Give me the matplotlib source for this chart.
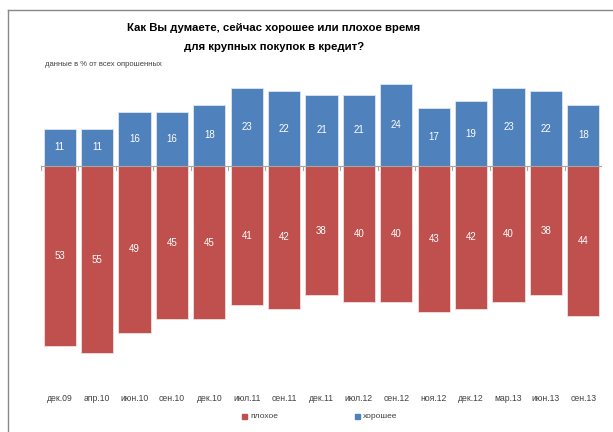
import numpy as np
import matplotlib.pyplot as plt
from matplotlib.lines import Line2D

plt.rcParams['font.family'] = ['Liberation Sans', 'DejaVu Sans']

periods = ['дек.09', 'апр.10', 'июн.10', 'сен.10', 'дек.10', 'июл.11', 'сен.11', 'дек.11',
           'июл.12', 'сен.12', 'ноя.12', 'дек.12', 'мар.13', 'июн.13', 'сен.13']
good = [11, 11, 16, 16, 18, 23, 22, 21, 21, 24, 17, 19, 23, 22, 18]
bad = [53, 55, 49, 45, 45, 41, 42, 38, 40, 40, 43, 42, 40, 38, 44]

blue = '#4F81BD'
red = '#C0504D'

fig = plt.figure(figsize=(6.13, 4.32), dpi=100)
ax = fig.add_axes([0.067, 0.1435, 0.915, 0.7083])

x = np.arange(len(periods))
bw = 0.86
ax.bar(x, good, width=bw, color=blue, edgecolor='#dfe6f0', linewidth=0.6)
ax.bar(x, [-v for v in bad], width=bw, color=red, edgecolor='#f0dede', linewidth=0.6)

for i in range(len(periods)):
    ax.text(x[i], good[i] / 2, str(good[i]), ha='center', va='center',
            color='white', fontsize=7)
    ax.text(x[i], -bad[i] / 2, str(bad[i]), ha='center', va='center',
            color='white', fontsize=7)

# category axis along zero with tick marks between categories
ax.axhline(0, color='#a6a6a6', lw=0.8, zorder=3)
for b in np.arange(-0.5, len(periods)):
    ax.plot([b, b], [0, -1.2], color='#a6a6a6', lw=0.8, zorder=3)

ax.set_xlim(-0.5, len(periods) - 0.5)
ax.set_ylim(-60, 30)
ax.set_xticks(x)
ax.set_xticklabels(periods, fontsize=6.2, color='#404040')
ax.tick_params(axis='x', length=0, pad=17)
ax.set_yticks([])
for s in ax.spines.values():
    s.set_visible(False)

fig.text(0.447, 0.935, 'Как Вы думаете, сейчас хорошее или плохое время',
         ha='center', va='center', fontsize=8.2, fontweight='bold')
fig.text(0.447, 0.891, 'для крупных покупок в кредит?',
         ha='center', va='center', fontsize=8.2, fontweight='bold')
fig.text(0.073, 0.85, 'данные в % от всех опрошенных', ha='left', va='center',
         fontsize=5.5, color='#404040')

# legend
fig.patches.append(plt.Rectangle((242 / 613, 1 - 419 / 432), 5 / 613, 5 / 432,
                                 transform=fig.transFigure, color=red))
fig.text(250 / 613, 1 - 416 / 432, 'плохое', fontsize=6, va='center', color='#404040')
fig.patches.append(plt.Rectangle((355 / 613, 1 - 419 / 432), 5 / 613, 5 / 432,
                                 transform=fig.transFigure, color=blue))
fig.text(363 / 613, 1 - 416 / 432, 'хорошее', fontsize=6, va='center', color='#404040')

# outer frame
fig.add_artist(Line2D([8 / 613, 1], [1 - 10 / 432, 1 - 10 / 432],
                      transform=fig.transFigure, color='#888888', lw=1))
fig.add_artist(Line2D([8 / 613, 8 / 613], [0, 1 - 10 / 432],
                      transform=fig.transFigure, color='#888888', lw=1))

fig.savefig('out.png', dpi=100)
